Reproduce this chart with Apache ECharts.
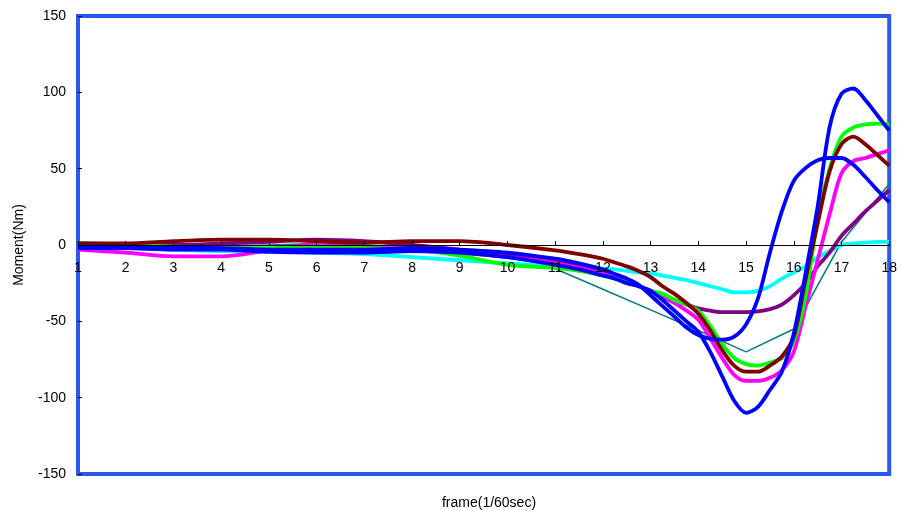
<!DOCTYPE html>
<html><head><meta charset="utf-8">
<script src="https://cdn.jsdelivr.net/npm/echarts@6/dist/echarts.min.js"></script>
<style>html,body{margin:0;padding:0;background:#fff}#c{width:900px;height:510px}</style>
</head><body><div id="c"></div>
<script>
const frames = [1,2,3,4,5,6,7,8,9,10,11,11.5,12,12.25,12.5,12.75,13,13.25,13.5,13.75,14,14.25,14.5,14.75,15,15.25,15.5,15.75,16,16.25,16.5,16.75,17,17.25,17.5,17.75,18];
const blueA = [-2,-2,-3,-3,-4.5,-5,-5,-4,-5,-8,-13,-16,-20,-22,-25,-27,-30,-36,-43,-50,-57,-70,-86,-102,-110,-106,-95,-83,-58,-18,25,77,99,102.5,95,85,75];
const blueB = [-1,-1,-1.5,-2,-3,-3,-3,-2,-3,-5,-9,-12,-16,-19,-22,-26,-33,-40,-47,-54,-59,-61.5,-62,-60,-52,-35,-5,22,42,50.5,55.5,57,57,52.5,44.5,36,28];
const green = [1,0,-1,-2,-2,-1,-2,-3,-7,-13,-15,-17,-20,-22,-24,-27,-30,-32,-36,-39,-43,-53,-65,-74,-78,-79,-77,-74,-63,-33,17,50,71,77,79,79.5,79];
const darkRed = [1,1,2.5,3.5,3.5,2.5,1.5,2.5,2.5,0,-3.5,-6,-9,-11.5,-14,-17,-21,-27,-32,-38,-45,-56,-69,-79,-83,-83,-79,-73,-60,-22,14,48,66,71,66,59,52];
const magenta = [-3,-5,-7.5,-7.5,-3.5,0.5,-1,-3,-5,-8,-12,-15,-19,-21,-24,-27,-30,-34,-38,-43,-49,-61,-74,-85,-89,-89,-87,-82,-70,-40,-10,20,47,55,57,59.5,62];
const cyan = [-1,-2,-3,-4,-4,-5,-6,-8,-10,-12,-14,-15,-15.5,-16,-17,-18,-18.5,-20,-21.5,-23,-25,-27,-29,-31,-31,-30,-27,-22,-18,-14,-8,-4,0,1,1.5,2,2];
const purple = [0,0,0,1,2,3.5,2.5,0,-3,-6,-11,-14,-18,-21,-24,-27,-30,-33,-36,-39,-41.5,-43,-44,-44,-44,-43.5,-42,-39,-33,-25,-14,-5,6,14,22,29,36];
const tealFrames = [1,2,3,4,5,6,7,8,9,10,11,12,13,14,15,16,17,18];
const teal = [2,1,0,-1,0,1,0,-1,-3,-6.5,-15.5,-29,-42.5,-56,-70,-55,2,40];

const pair = (xs, ys) => xs.map((x, i) => [x, ys[i]]);
function thick(name, color, ys) {
  return {name, type:'line', data: pair(frames, ys), symbol:'none', smooth:0.3,
    lineStyle:{color, width:3.8}, itemStyle:{color}, clip:true, animation:false};
}
const chart = echarts.init(document.getElementById('c'));
chart.setOption({
  animation:false,
  backgroundColor:'#fff',
  textStyle:{fontFamily:'Liberation Sans, Arial, sans-serif'},
  grid:{left:78, right:9, top:16, bottom:36, show:true, borderColor:'#2b58ec', borderWidth:4, backgroundColor:'transparent'},
  xAxis:{type:'value', min:1, max:18, interval:1, position:'bottom', offset:-229, z:10,
    axisLine:{onZero:false, lineStyle:{color:'#000', width:1}},
    axisTick:{inside:true, length:4, lineStyle:{color:'#000'}},
    axisLabel:{fontSize:14, color:'#000', margin:16, showMinLabel:true, showMaxLabel:true},
    splitLine:{show:false}},
  yAxis:{type:'value', min:-150, max:150, interval:50,
    axisLine:{show:false},
    axisTick:{show:true, inside:true, length:4, lineStyle:{color:'#000'}},
    axisLabel:{fontSize:14, color:'#000', margin:12},
    splitLine:{show:false},
    name:'Moment(Nm)', nameLocation:'middle', nameGap:52,
    nameTextStyle:{fontSize:14, color:'#000'}},
  graphic:[{type:'text', x:489, y:503, style:{text:'frame(1/60sec)', fontSize:14, fill:'#000', align:'center', verticalAlign:'middle', fontFamily:'Liberation Sans, Arial, sans-serif'}}],
  series:[
    {name:'teal', type:'line', data: pair(tealFrames, teal), symbol:'none', lineStyle:{color:'#008080', width:1.6}, itemStyle:{color:'#008080'}, clip:true},
    thick('cyan', '#00ffff', cyan),
    thick('purple', '#800080', purple),
    thick('magenta', '#ff00ff', magenta),
    thick('green', '#00ff00', green),
    thick('darkred', '#800000', darkRed),
    thick('blueB', '#0000ff', blueB),
    thick('blueA', '#0000ff', blueA)
  ]
});
</script></body></html>
